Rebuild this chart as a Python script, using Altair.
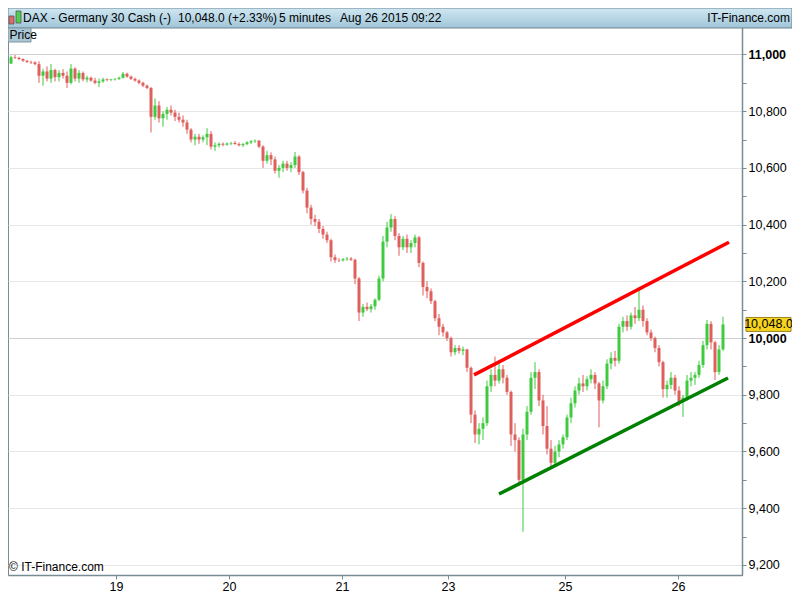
import altair as alt
import pandas as pd

# ---------------- data ----------------
opens = [10968, 10970, 10968, 10990, 10988, 10984, 10978, 10974, 10972, 10966,
         10925, 10940, 10915, 10945, 10920, 10935, 10925, 10900, 10950, 10915,
         10935, 10912, 10918, 10908, 10900, 10905, 10912, 10910, 10912, 10914,
         10918, 10932, 10922, 10914, 10908, 10900, 10890, 10882, 10780, 10820,
         10775, 10790, 10805, 10795, 10780, 10770, 10760, 10735, 10700, 10710,
         10700, 10708, 10720, 10675, 10680, 10685, 10682, 10686, 10688, 10684,
         10680, 10684, 10690, 10694, 10696, 10675, 10625, 10645, 10630, 10590,
         10600, 10615, 10600, 10610, 10640, 10585, 10520, 10460, 10420, 10410,
         10385, 10365, 10345, 10285, 10275, 10274, 10278, 10280, 10276, 10210,
         10090, 10110, 10102, 10112, 10135, 10210, 10340, 10390, 10420, 10360,
         10320, 10350, 10320, 10335, 10355, 10265, 10180, 10165, 10130, 10070,
         10040, 10020, 10000, 9950, 9965, 9955, 9960, 9895, 9730, 9660,
         9680, 9700, 9830, 9870, 9850, 9890, 9860, 9810, 9660, 9640,
         9500, 9660, 9740, 9860, 9880, 9780, 9690, 9610, 9560, 9600,
         9625, 9650, 9720, 9770, 9815, 9840, 9830, 9855, 9870, 9840,
         9780, 9830, 9910, 9930, 9920, 10040, 10060, 10040, 10080, 10070,
         10100, 10060, 10020, 10000, 9965, 9915, 9820, 9835, 9860, 9815,
         9775, 9790, 9850, 9860, 9870, 9905, 9975, 10050, 9985, 9880,
         9960]
highs = [10972, 10974, 10996, 10998, 10992, 10986, 10980, 10978, 10976, 10976,
         10950, 10958, 10966, 10950, 10945, 10948, 10940, 10966, 10955, 10945,
         10940, 10925, 10922, 10918, 10915, 10918, 10916, 10914, 10916, 10922,
         10938, 10936, 10926, 10918, 10912, 10904, 10894, 10885, 10845, 10835,
         10800, 10815, 10820, 10805, 10795, 10785, 10770, 10740, 10720, 10720,
         10715, 10740, 10730, 10690, 10690, 10690, 10690, 10692, 10695, 10690,
         10688, 10694, 10698, 10700, 10698, 10680, 10660, 10655, 10640, 10610,
         10625, 10625, 10620, 10656, 10645, 10590, 10530, 10470, 10435, 10420,
         10395, 10375, 10350, 10295, 10282, 10282, 10286, 10286, 10280, 10215,
         10120, 10125, 10120, 10140, 10220, 10360, 10410, 10437, 10430, 10370,
         10360, 10365, 10345, 10365, 10360, 10270, 10200, 10175, 10135, 10085,
         10050, 10025, 10005, 9975, 9975, 9970, 9962, 9900, 9745, 9700,
         9720, 9850, 9890, 9935, 9920, 9905, 9870, 9815, 9700, 9650,
         9680, 9760, 9880, 9915, 9890, 9800, 9760, 9640, 9620, 9640,
         9660, 9730, 9790, 9830, 9860, 9870, 9865, 9890, 9880, 9845,
         9850, 9925, 9950, 9955, 10050, 10075, 10080, 10090, 10110, 10180,
         10115, 10070, 10030, 10005, 9975, 9920, 9850, 9880, 9870, 9830,
         9800, 9870, 9880, 9880, 9920, 9990, 10064, 10060, 9990, 9975,
         10075]
lows = [10964, 10966, 10966, 10984, 10980, 10974, 10970, 10966, 10962, 10900,
        10890, 10905, 10900, 10905, 10905, 10915, 10882, 10895, 10905, 10900,
        10905, 10902, 10904, 10895, 10885, 10900, 10905, 10906, 10908, 10910,
        10915, 10918, 10910, 10904, 10895, 10885, 10878, 10725, 10770, 10760,
        10745, 10770, 10785, 10765, 10760, 10745, 10720, 10690, 10680, 10685,
        10690, 10680, 10665, 10660, 10672, 10676, 10678, 10680, 10682, 10676,
        10674, 10680, 10684, 10688, 10670, 10600, 10615, 10610, 10580, 10565,
        10585, 10590, 10585, 10600, 10575, 10510, 10440, 10400, 10395, 10370,
        10350, 10335, 10270, 10265, 10268, 10270, 10272, 10272, 10190, 10060,
        10075, 10095, 10090, 10100, 10130, 10200, 10320, 10375, 10345, 10290,
        10310, 10300, 10300, 10320, 10250, 10150, 10140, 10120, 10060, 10010,
        10005, 9990, 9935, 9940, 9945, 9940, 9880, 9700, 9630, 9625,
        9640, 9690, 9810, 9830, 9840, 9840, 9800, 9620, 9600, 9480,
        9317, 9640, 9730, 9820, 9760, 9660, 9590, 9540, 9545, 9580,
        9610, 9640, 9700, 9755, 9800, 9810, 9815, 9840, 9820, 9685,
        9770, 9820, 9890, 9900, 9910, 10020, 10025, 10030, 10050, 10060,
        10040, 10010, 9990, 9950, 9900, 9790, 9790, 9820, 9800, 9760,
        9722, 9780, 9830, 9835, 9860, 9895, 9960, 9960, 9852, 9870,
        9955]
closes = [10970, 10968, 10990, 10988, 10984, 10978, 10974, 10972, 10966, 10925,
          10940, 10915, 10945, 10920, 10935, 10925, 10900, 10950, 10915, 10935,
          10912, 10918, 10908, 10900, 10905, 10912, 10910, 10912, 10914, 10918,
          10932, 10922, 10914, 10908, 10900, 10890, 10882, 10780, 10820, 10775,
          10790, 10805, 10795, 10780, 10770, 10760, 10735, 10700, 10710, 10700,
          10708, 10720, 10675, 10680, 10685, 10682, 10686, 10688, 10684, 10680,
          10684, 10690, 10694, 10696, 10675, 10625, 10645, 10630, 10590, 10600,
          10615, 10600, 10610, 10640, 10585, 10520, 10460, 10420, 10410, 10385,
          10365, 10345, 10285, 10275, 10274, 10278, 10280, 10276, 10210, 10090,
          10110, 10102, 10112, 10135, 10210, 10340, 10390, 10420, 10360, 10320,
          10350, 10320, 10335, 10355, 10265, 10180, 10165, 10130, 10070, 10040,
          10020, 10000, 9950, 9965, 9955, 9960, 9895, 9730, 9660, 9680,
          9700, 9830, 9870, 9850, 9890, 9860, 9810, 9660, 9640, 9500,
          9660, 9740, 9860, 9880, 9780, 9690, 9610, 9560, 9600, 9625,
          9650, 9720, 9770, 9815, 9840, 9830, 9855, 9870, 9840, 9780,
          9830, 9910, 9930, 9920, 10040, 10060, 10040, 10080, 10070, 10100,
          10060, 10020, 10000, 9965, 9915, 9820, 9835, 9860, 9815, 9775,
          9790, 9850, 9860, 9870, 9905, 9975, 10050, 9985, 9880, 9960,
          10048]

day_labels = ["19", "20", "21", "23", "25", "26"]
day_pos = [28.25, 56.5, 84.75, 111.25, 140.5, 168.75]   # bar index of each day start
price_ticks = list(range(9200, 11101, 100))

red_line_x = [117.75, 181.5]
red_line_y = [9870, 10338]
green_line_x = [124.0, 181.25]
green_line_y = [9450, 9859]

last_price = 10048.0
header_texts = ["DAX - Germany 30 Cash (-)", "10,048.0 (+2.33%)", "5 minutes", "Aug 26 2015 09:22"]
header_x = [15, 170, 271, 332]

assert len(opens) == len(highs) == len(lows) == len(closes)

# ---------------- tables ----------------
df = pd.DataFrame({"i": list(range(len(closes))), "open": opens, "high": highs,
                   "low": lows, "close": closes})
red_df = pd.DataFrame({"i": red_line_x, "p": red_line_y})
green_df = pd.DataFrame({"i": green_line_x, "p": green_line_y})
tag_df = pd.DataFrame({"p": [last_price], "txt": [f"{last_price:,.1f}"]})
one = pd.DataFrame({"k": [0]})

GREEN = "#3fca3f"
RED = "#df5f5d"
AXIS = "#788c96"
FONT = "Liberation Sans"
PLOT_W, PLOT_H = 734, 554
TOTAL_W = 784

label_expr = "''"
for pos, lab in zip(reversed(day_pos), reversed(day_labels)):
    label_expr = f"abs(datum.value - {pos}) < 0.01 ? '{lab}' : " + label_expr

xscale = alt.Scale(domain=[1.25, 184.75], nice=False, zero=False, padding=0)
yscale = alt.Scale(domain=[9164.5, 11118.0], nice=False, zero=False, padding=0)
big = "datum.value == 10000 || datum.value == 11000"

xaxis = alt.Axis(orient="bottom", values=day_pos, labelExpr=label_expr, title=None,
                 grid=False, tickSize=4, tickColor=AXIS, domainColor=AXIS, domainWidth=1.5,
                 labelFont=FONT, labelFontSize=12.5, labelColor="#000", labelPadding=1,
                 labelOverlap=False)
yaxis = alt.Axis(orient="right", values=price_ticks, title=None,
                 labelExpr="datum.value % 200 == 0 ? format(datum.value, ',') : ''",
                 grid=True,
                 gridColor={"condition": {"test": big, "value": "#d0d0d0"}, "value": "#e6e6e6"},
                 gridOpacity={"condition": {"test": "datum.value % 200 != 0", "value": 0}, "value": 1},
                 labelFontWeight={"condition": {"test": big, "value": "bold"}, "value": "normal"},
                 tickSize=4, tickColor=AXIS, domainColor=AXIS, domainWidth=1.5,
                 labelFont=FONT, labelFontSize=12.5, labelColor="#000", labelPadding=2,
                 labelOverlap=False, labelBaseline="middle")

X = alt.X("i:Q", scale=xscale, axis=xaxis)
color_cond = alt.condition("datum.close >= datum.open", alt.value(GREEN), alt.value(RED))

wicks = alt.Chart(df).mark_rule(strokeWidth=1).encode(
    x=X, y=alt.Y("low:Q", scale=yscale, axis=yaxis), y2="high:Q", color=color_cond)
bodies = alt.Chart(df).mark_bar(size=3).encode(
    x=X, y=alt.Y("open:Q", scale=yscale, axis=yaxis), y2="close:Q", color=color_cond)

red_line = alt.Chart(red_df).mark_line(color="#ff0000", strokeWidth=3.5, strokeCap="butt").encode(
    x=X, y=alt.Y("p:Q", scale=yscale, axis=yaxis))
green_line = alt.Chart(green_df).mark_line(color="#008000", strokeWidth=3.5, strokeCap="butt").encode(
    x=X, y=alt.Y("p:Q", scale=yscale, axis=yaxis))

tag_box = alt.Chart(tag_df).transform_calculate(
    lo="datum.p - 24.7", hi="datum.p + 24.7"
).mark_rect(fill="#f6d31f", stroke="#9a8420", strokeWidth=1).encode(
    x=alt.value(738), x2=alt.value(783),
    y=alt.Y("lo:Q", scale=yscale, axis=yaxis), y2="hi:Q")
tag_text = alt.Chart(tag_df).mark_text(font=FONT, fontSize=12.5, color="#000",
                                       baseline="middle", align="center").encode(
    x=alt.value(760.5), y=alt.Y("p:Q", scale=yscale, axis=yaxis), text="txt:N")

header = alt.Chart(one).mark_rect(
    fill=alt.LinearGradient(gradient="linear", x1=0, x2=0, y1=0, y2=1,
                            stops=[alt.GradientStop(color="#d0e7f2", offset=0),
                                   alt.GradientStop(color="#9fc5d8", offset=1)]),
    stroke="#6f8591", strokeWidth=1).encode(
    x=alt.value(0), x2=alt.value(TOTAL_W), y=alt.value(-13), y2=alt.value(7))

icon_red = alt.Chart(one).mark_rect(fill="#e06a6a", stroke="#555555", strokeWidth=0.8).encode(
    x=alt.value(1), x2=alt.value(6), y=alt.value(-5), y2=alt.value(3))
icon_green = alt.Chart(one).mark_rect(fill="#4cd04c", stroke="#555555", strokeWidth=0.8).encode(
    x=alt.value(8), x2=alt.value(13), y=alt.value(-10), y2=alt.value(2))

head_layers = []
for t, xp in zip(header_texts, header_x):
    head_layers.append(
        alt.Chart(one).mark_text(text=t, font=FONT, fontSize=12, color="#000",
                                 align="left", baseline="middle").encode(
            x=alt.value(xp), y=alt.value(-3)))
brand = alt.Chart(one).mark_text(text="IT-Finance.com", font=FONT, fontSize=12, color="#000",
                                 align="right", baseline="middle").encode(
    x=alt.value(TOTAL_W - 2), y=alt.value(-3))

price_box = alt.Chart(one).mark_rect(fill="#a9c6d4", stroke="#7d95a0", strokeWidth=1).encode(
    x=alt.value(0), x2=alt.value(23), y=alt.value(7), y2=alt.value(21))
price_txt = alt.Chart(one).mark_text(text="Price", font=FONT, fontSize=12, color="#000",
                                     align="left", baseline="middle").encode(
    x=alt.value(1.5), y=alt.value(14))
copyright_txt = alt.Chart(one).mark_text(text="© IT-Finance.com", font=FONT, fontSize=12,
                                         color="#000", align="left", baseline="middle").encode(
    x=alt.value(1), y=alt.value(PLOT_H - 8))

chart = alt.layer(
    wicks, bodies, red_line, green_line, tag_box, tag_text,
    header, icon_red, icon_green, *head_layers, brand, price_box, price_txt, copyright_txt
).properties(
    width=PLOT_W, height=PLOT_H,
    autosize=alt.AutoSizeParams(type="none"),
    padding={"left": 0, "top": 13, "right": TOTAL_W - PLOT_W, "bottom": 17},
    background="#ffffff",
).configure_view(stroke=AXIS, strokeWidth=1)

chart.save("out.html", embed_options={"renderer": "svg", "actions": False})
